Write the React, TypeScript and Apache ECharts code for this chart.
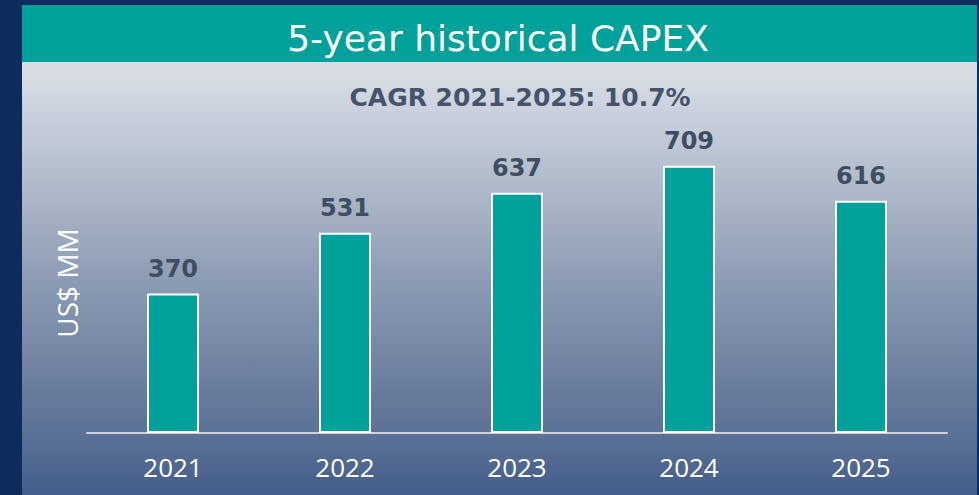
import React, { useEffect, useRef } from "react";
import * as echarts from "echarts";

const categories = ["2021", "2022", "2023", "2024", "2025"];
const capexValues = [370, 531, 637, 709, 616];
const titleText = "5-year historical CAPEX";
const subtitleText = "CAGR 2021-2025: 10.7%";
const yAxisName = "US$ MM";

export default function App() {
  const ref = useRef<HTMLDivElement>(null);
  useEffect(() => {
    document.body.style.margin = "0";
    const chart = echarts.init(ref.current!, null, { renderer: "svg" });
    chart.setOption({
      animation: false,
      backgroundColor: "#0e2b5e",
      graphic: [
        {
          type: "rect",
          z: -10,
          shape: { x: 22, y: 5, width: 955, height: 495 },
          style: {
            fill: new echarts.graphic.LinearGradient(0, 0, 0, 1, [
              { offset: 0, color: "#e4e7ee" },
              { offset: 0.15, color: "#d6dbe4" },
              { offset: 0.35, color: "#b2bdcc" },
              { offset: 0.55, color: "#8e9db5" },
              { offset: 0.75, color: "#6e80a0" },
              { offset: 0.9, color: "#566c93" },
              { offset: 1, color: "#405c8a" },
            ]),
          },
        },
        {
          type: "rect",
          z: -9,
          shape: { x: 22, y: 5, width: 955, height: 57 },
          style: { fill: "#00a19a" },
        },
        {
          type: "text",
          x: 498,
          y: 38,
          style: {
            text: titleText,
            fill: "#ffffff",
            font: "36px 'DejaVu Sans'",
            textAlign: "center",
            textVerticalAlign: "middle",
          },
        },
        {
          type: "text",
          x: 520,
          y: 97,
          style: {
            text: subtitleText,
            fill: "#45546c",
            font: "bold 25px 'DejaVu Sans'",
            textAlign: "center",
            textVerticalAlign: "middle",
          },
        },
        {
          type: "text",
          x: 67,
          y: 283,
          rotation: Math.PI / 2,
          style: {
            text: yAxisName,
            fill: "#ffffff",
            font: "28px 'Open Sans'",
            textAlign: "center",
            textVerticalAlign: "middle",
          },
        },
      ],
      grid: { left: 87, right: 32, top: 56, bottom: 62 },
      xAxis: {
        type: "category",
        data: categories,
        axisLine: { lineStyle: { color: "#cdd1d9", width: 2 } },
        axisTick: { show: false },
        axisLabel: {
          color: "#ffffff",
          fontSize: 26,
          fontFamily: "'Open Sans'",
          margin: 21,
        },
      },
      yAxis: {
        type: "value",
        min: 0,
        max: 1000,
        show: false,
        splitLine: { show: false },
      },
      series: [
        {
          type: "bar",
          data: capexValues,
          barWidth: 52,
          itemStyle: { color: "#00a19a", borderColor: "#ffffff", borderWidth: 2 },
          label: {
            show: true,
            position: "top",
            distance: 13,
            color: "#3f4d63",
            fontSize: 24,
            fontWeight: "bold",
            fontFamily: "'DejaVu Sans'",
          },
        },
      ],
    });
    return () => chart.dispose();
  }, []);
  return <div ref={ref} style={{ width: 979, height: 495 }} />;
}
